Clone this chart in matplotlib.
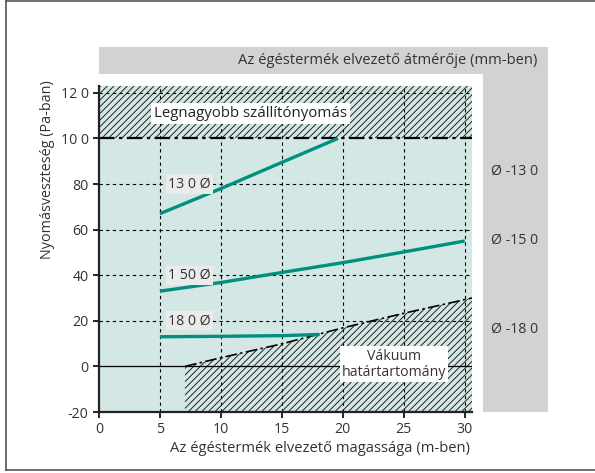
import matplotlib
matplotlib.use("Agg")
import matplotlib.pyplot as plt
from matplotlib.patches import Rectangle
from matplotlib.lines import Line2D

plt.rcParams['font.family'] = ['Open Sans', 'DejaVu Sans']
plt.rcParams['hatch.linewidth'] = 0.7

# ---- data ----
x130 = [5, 10, 15, 19.6]
y130 = [67, 78, 89.5, 100]
x150 = [5, 10, 15, 20, 25, 30]
y150 = [33, 36.8, 41.2, 45.5, 50.2, 55]
x180 = [5, 10, 15, 18.1]
y180 = [13, 13.2, 13.5, 14]
vac_x = [7.05, 10, 15, 20, 25, 30.6]
vac_y = [0, 3.8, 9.9, 16.9, 23.3, 30]
max_pressure = 100
xticks = [0, 5, 10, 15, 20, 25, 30]
yticks = [-20, 0, 20, 40, 60, 80, 100, 120]
ytick_labels = ['-20', '0', '20', '40', '60', '80', '10 0', '12 0']
series_labels = ['13 0 Ø', '1 50 Ø', '18 0 Ø']
side_labels = ['Ø -13 0', 'Ø -15 0', 'Ø -18 0']

W, H = 595, 473
fig = plt.figure(figsize=(W/100, H/100), dpi=100)

def fx(px): return px / W
def fy(py): return 1 - py / H

# outer frame
fig.add_artist(Line2D([fx(6), 1.0], [fy(1.5), fy(1.5)], color='#555555', lw=1.2))
fig.add_artist(Line2D([fx(6), 1.0], [fy(470), fy(470)], color='#555555', lw=1.2))
fig.add_artist(Line2D([fx(6), fx(6)], [fy(1.5), fy(470)], color='#555555', lw=1.2))

gray = '#d1d2d4'
# header band
fig.add_artist(Rectangle((fx(99), fy(74)), fx(548) - fx(99), fy(47) - fy(74), color=gray, lw=0))
# right column
fig.add_artist(Rectangle((fx(483), fy(412)), fx(548) - fx(483), fy(74) - fy(412), color=gray, lw=0))
fig.text(fx(537), fy(61), 'Az égéstermék elvezető átmérője (mm-ben)', ha='right', va='center',
         fontsize=10.6, color='#333333')
for lbl, py in zip(side_labels, [171, 240, 329]):
    fig.text(fx(515), fy(py), lbl, ha='center', va='center', fontsize=10.2, color='#333333')

ax = fig.add_axes([fx(99), fy(412), fx(472) - fx(99), fy(86) - fy(412)])
ax.set_xlim(0, 30.6)
ax.set_ylim(-20, 123)
ax.set_facecolor('#d3e7e4')

# grid
for xv in xticks[1:]:
    ax.axvline(xv, color='black', lw=0.8, ls=(0, (3, 3)), zorder=1)
for yv in [20, 40, 60, 80, 120]:
    ax.axhline(yv, color='black', lw=0.8, ls=(0, (3, 3)), zorder=1)

# hatched regions
ax.fill_between([0, 30.6], [max_pressure, max_pressure], [123, 123], facecolor='none',
                edgecolor='#222222', hatch='/////', lw=0, zorder=2)
ax.fill_between(vac_x, [-20] * len(vac_x), vac_y, facecolor='none',
                edgecolor='#222222', hatch='/////', lw=0, zorder=2)

ax.axhline(0, color='black', lw=0.9, zorder=3)
ax.axhline(max_pressure, color='black', lw=1.6, ls=(0, (7, 2, 1.5, 2)), zorder=4)
ax.plot(vac_x, vac_y, color='black', lw=1.2, ls=(0, (7, 2, 1.5, 2)), zorder=4)

teal = '#00907f'
for xs, ys in [(x130, y130), (x150, y150), (x180, y180)]:
    ax.plot(xs, ys, color=teal, lw=2.4, solid_capstyle='butt', zorder=5)

# labels
ax.text(4.5, 111, 'Legnagyobb szállítónyomás', ha='left', va='center', fontsize=10.8,
        color='#222222', zorder=6,
        bbox=dict(boxstyle='square,pad=0.2', fc='white', ec='none'))
for lbl, yv in zip(series_labels, [80, 40, 20]):
    ax.text(7.4, yv, lbl, ha='center', va='center', fontsize=10.2, color='#333333', zorder=6,
            bbox=dict(boxstyle='square,pad=0.15', fc='#e9ecea', ec='none'))
ax.text(24.2, 1, 'Vákuum\nhatártartomány', ha='center', va='center', fontsize=10.2,
        color='#333333', zorder=6, linespacing=1.1,
        bbox=dict(boxstyle='square,pad=0.15', fc='white', ec='none'))

ax.set_xticks(xticks)
ax.set_yticks(yticks)
ax.set_yticklabels(ytick_labels)
ax.tick_params(direction='out', length=4, width=1.2, labelsize=10.2, colors='#333333')
ax.tick_params(axis='both', color='black')
for s in ['top', 'right']:
    ax.spines[s].set_visible(False)
for s in ['left', 'bottom']:
    ax.spines[s].set_linewidth(1.6)
    ax.spines[s].set_color('#222222')
    ax.spines[s].set_zorder(7)

ax.set_xlabel('Az égéstermék elvezető magassága (m-ben)', fontsize=10.6, color='#333333')
ax.set_ylabel('Nyomásveszteség (Pa-ban)', fontsize=10.4, color='#333333')
ax.xaxis.set_label_coords((320 - 99) / 373, (412 - 441) / 326)
ax.yaxis.set_label_coords((55 - 99) / 373, (412 - 170) / 326)

fig.savefig('out.png', dpi=100)
